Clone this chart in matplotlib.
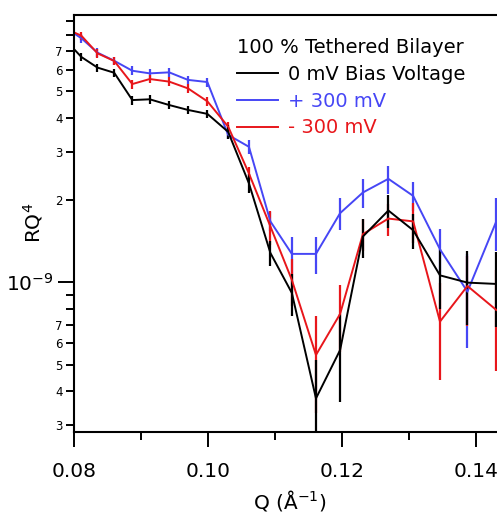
import matplotlib
matplotlib.use('Agg')
import matplotlib.pyplot as plt
import matplotlib.ticker as mticker
import numpy as np

# Q values (1/Angstrom)
q = [0.0788, 0.0811, 0.0835, 0.0860, 0.0887, 0.0913, 0.0942, 0.0970, 0.0999,
     0.1030, 0.1061, 0.1093, 0.1125, 0.1161, 0.1197, 0.1231, 0.1269, 0.1306,
     0.1346, 0.1387, 0.1430]

# RQ^4 in units of 1e-9
rq4_0mv = [7.66, 6.67, 6.10, 5.84, 4.64, 4.67, 4.45, 4.27, 4.13, 3.55, 2.30,
           1.28, 0.914, 0.376, 0.565, 1.47, 1.83, 1.55, 1.06, 0.997, 0.986]
err_0mv = [0.25, 0.23, 0.20, 0.20, 0.17, 0.17, 0.16, 0.15, 0.15, 0.20, 0.18,
           0.13, 0.16, 0.143, 0.20, 0.24, 0.25, 0.23, 0.26, 0.30, 0.30]

rq4_p300 = [8.51, 7.81, 6.92, 6.46, 5.94, 5.81, 5.86, 5.50, 5.40, 3.46, 3.13,
            1.67, 1.27, 1.27, 1.79, 2.13, 2.39, 2.07, 1.32, 0.924, 1.67]
err_p300 = [0.30, 0.28, 0.25, 0.23, 0.22, 0.21, 0.21, 0.20, 0.20, 0.13, 0.18,
            0.13, 0.20, 0.20, 0.24, 0.26, 0.28, 0.25, 0.25, 0.35, 0.37]

rq4_m300 = [8.46, 7.98, 6.88, 6.45, 5.31, 5.54, 5.42, 5.12, 4.59, 3.71, 2.50,
            1.60, 1.02, 0.542, 0.766, 1.50, 1.71, 1.67, 0.718, 0.969, 0.792]
err_m300 = [0.30, 0.28, 0.25, 0.23, 0.20, 0.20, 0.20, 0.19, 0.17, 0.15, 0.15,
            0.23, 0.20, 0.21, 0.21, 0.20, 0.23, 0.28, 0.28, 0.28, 0.32]

scale = 1e-9
blue = '#4646f5'
red = '#e8161b'

plt.rcParams['font.family'] = 'DejaVu Sans'
plt.rcParams['mathtext.fontset'] = 'dejavusans'

fig = plt.figure(figsize=(4.97, 5.15), dpi=100)
ax = fig.add_axes([74/497, 83.3/515, 432/497, 416.7/515])

series = [
    (rq4_p300, err_p300, blue, '+ 300 mV'),
    (rq4_m300, err_m300, red, '- 300 mV'),
    (rq4_0mv, err_0mv, 'black', '0 mV Bias Voltage'),
]
handles = {}
for y, e, c, lab in series:
    y = np.array(y) * scale
    e = np.array(e) * scale
    h, _, _ = ax.errorbar(q, y, yerr=e, color=c, lw=1.4, elinewidth=1.6,
                          capsize=0, label=lab)
    handles[lab] = h

ax.set_yscale('log')
ax.set_xlim(0.08, 0.14445)
ax.set_ylim(2.84e-10, 9.5e-9)

# x ticks
ax.xaxis.set_major_locator(mticker.FixedLocator([0.08, 0.10, 0.12, 0.14]))
ax.xaxis.set_major_formatter(mticker.FormatStrFormatter('%.2f'))
ax.xaxis.set_minor_locator(mticker.FixedLocator([0.09, 0.11, 0.13]))

# y ticks
ax.yaxis.set_major_locator(mticker.FixedLocator([1e-9]))
ax.yaxis.set_major_formatter(mticker.FixedFormatter([r'$10^{-9}$']))
minor_vals = [m * 1e-10 for m in range(3, 10)] + [m * 1e-9 for m in range(2, 10)]
ax.yaxis.set_minor_locator(mticker.FixedLocator(minor_vals))


def minor_fmt(v, pos):
    m = int(round(v / 10 ** np.floor(np.log10(v) + 1e-9)))
    return str(m) if m <= 7 else ''


ax.yaxis.set_minor_formatter(mticker.FuncFormatter(minor_fmt))

ax.tick_params(axis='x', which='major', direction='out', length=10.8, width=1.4,
               pad=11, labelsize=14.5)
ax.tick_params(axis='x', which='minor', direction='out', length=5.8, width=1.4)
ax.tick_params(axis='y', which='major', direction='out', length=11.5, width=1.4,
               pad=3.5, labelsize=14.5)
ax.tick_params(axis='y', which='minor', direction='out', length=6, width=1.4,
               pad=2, labelsize=8.5)
ax.tick_params(top=False, right=False, which='both')

for s in ax.spines.values():
    s.set_linewidth(1.5)

ax.set_ylabel(r'RQ$^4$', fontsize=14.5)
ax.yaxis.set_label_coords(-0.068, 0.5)
ax.set_xlabel(r'Q (Å$^{-1}$)', fontsize=14.5)
ax.xaxis.set_label_coords(0.5, -0.135)

order = ['0 mV Bias Voltage', '+ 300 mV', '- 300 mV']
leg = ax.legend([handles[k] for k in order], order, title='100 % Tethered Bilayer',
                loc='upper left', bbox_to_anchor=(237/497, 1 - 38/515),
                bbox_transform=fig.transFigure, frameon=False, fontsize=14,
                title_fontsize=14, alignment='left', labelcolor='linecolor',
                handlelength=2.1, handletextpad=0.5, labelspacing=0.4,
                borderpad=0, borderaxespad=0)

fig.savefig('out.png', dpi=100)
